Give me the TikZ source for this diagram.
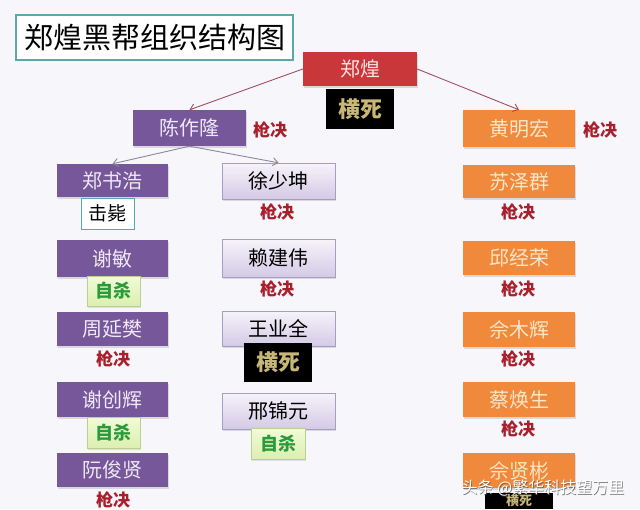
\documentclass[tikz,border=0pt]{standalone}
\usepackage{fontspec}
\setmainfont{Noto Sans CJK SC}
\usetikzlibrary{shadows,arrows.meta}
\definecolor{bgc}{HTML}{F7F6FB}
\definecolor{tealc}{HTML}{5AA8A8}
\definecolor{purp}{HTML}{76579A}
\definecolor{purptxt}{HTML}{EFE8F5}
\definecolor{lavtop}{HTML}{F6F3FA}
\definecolor{lavbot}{HTML}{D4CAE6}
\definecolor{lavdraw}{HTML}{A89CC0}
\definecolor{redc}{HTML}{C9373A}
\definecolor{redtxt}{HTML}{FBE4E0}
\definecolor{orc}{HTML}{F0893B}
\definecolor{ortxt}{HTML}{FBE6C8}
\definecolor{gold}{HTML}{C8B878}
\definecolor{grtop}{HTML}{F2FAD8}
\definecolor{grbot}{HTML}{DCEFB0}
\definecolor{grdraw}{HTML}{B8D090}
\definecolor{grtxt}{HTML}{2A9A3A}
\definecolor{exred}{HTML}{A8202C}
\definecolor{arrred}{HTML}{A05060}
\definecolor{arrgray}{HTML}{8A8A96}
\tikzset{
  base/.style={inner sep=0pt, minimum width=111pt, minimum height=35pt,
    drop shadow={shadow xshift=1pt, shadow yshift=-1.5pt, opacity=0.25},
    font=\fontsize{20}{24}\selectfont},
  purplebox/.style={base, fill=purp, text=purptxt},
  lavbox/.style={base, top color=lavtop, bottom color=lavbot, draw=lavdraw, text=black},
  redbox/.style={base, fill=redc, text=redtxt, minimum width=114pt, minimum height=34pt},
  orangebox/.style={base, fill=orc, text=ortxt},
  deadbox/.style={inner sep=0pt, fill=black, text=gold, minimum width=68pt, minimum height=40pt,
    font=\fontsize{22}{26}\selectfont\bfseries},
  suicidebox/.style={inner sep=0pt, top color=grtop, bottom color=grbot, draw=grdraw, text=grtxt,
    minimum width=53pt, minimum height=30pt, font=\fontsize{18}{22}\selectfont\bfseries,
    drop shadow={shadow xshift=1pt, shadow yshift=-1.5pt, opacity=0.2}},
  shotbox/.style={inner sep=0pt, fill=white, draw=tealc, line width=1pt, text=black,
    minimum width=53pt, minimum height=31pt, font=\fontsize{19}{22}\selectfont},
  exectext/.style={inner sep=0pt, text=exred, font=\fontsize{17}{20}\selectfont\bfseries},
  conn/.style={-{Straight Barb[length=5pt,width=8pt]}, line width=0.9pt},
}
\begin{document}
\begin{tikzpicture}[x=1pt,y=-1pt]
\useasboundingbox (0,0) rectangle (640,509);
\clip (0,0) rectangle (640,509);
\fill[bgc] (0,0) rectangle (640,509);
% title
\node[draw=tealc, line width=1.6pt, fill=white, minimum width=277pt, minimum height=45pt, inner sep=0pt,
  font=\fontsize{29}{32}\selectfont] (title) at (154.5,37.5) {郑煌黑帮组织结构图};
% top
\node[redbox] (zh) at (360,69) {郑煌};
\node[deadbox] (zhd) at (360,109) {横死};
\node[purplebox, minimum width=113pt, minimum height=36pt] (czl) at (189.5,128) {陈作隆};
\node[exectext] (czle) at (270,130) {枪决};
\node[orangebox, minimum width=112pt, minimum height=37pt] (hmh) at (519,128.5) {黄明宏};
\node[exectext] (hmhe) at (600,130) {枪决};
% left column
\node[purplebox, minimum height=33pt] (zsh) at (112.5,180.5) {郑书浩};
\node[shotbox] (zshd) at (107.5,213.5) {击毙};
\node[purplebox, minimum height=37pt] (xm) at (112.5,258.5) {谢敏};
\node[suicidebox] (xmd) at (113.5,291) {自杀};
\node[purplebox, minimum height=34pt] (zyf) at (112.5,329) {周延樊};
\node[exectext] (zyfd) at (113,359) {枪决};
\node[purplebox] (zch) at (112.5,399.5) {谢创辉};
\node[suicidebox, minimum height=31pt] (zchd) at (113.5,432.5) {自杀};
\node[purplebox, minimum height=34pt] (rjx) at (112.5,470) {阮俊贤};
\node[exectext] (rjxd) at (113,500) {枪决};
% middle column
\node[lavbox, minimum width=113pt, minimum height=36pt] (xsk) at (278.5,181) {徐少坤};
\node[exectext] (xskd) at (277,212) {枪决};
\node[lavbox, minimum width=113pt, minimum height=38pt] (ljw) at (278.5,258) {赖建伟};
\node[exectext] (ljwd) at (277,289) {枪决};
\node[lavbox, minimum width=113pt] (wyq) at (278.5,328.5) {王业全};
\node[deadbox, minimum height=39pt] (wyqd) at (278,362.5) {横死};
\node[lavbox, minimum width=113pt, minimum height=36pt] (xjy) at (278.5,411) {邢锦元};
\node[suicidebox, minimum width=54pt, minimum height=31pt] (xjyd) at (278,443.5) {自杀};
% right column
\node[orangebox, minimum width=112pt, minimum height=33pt] (szq) at (519,181.5) {苏泽群};
\node[exectext] (szqd) at (518,212) {枪决};
\node[orangebox, minimum width=112pt, minimum height=34pt] (qjr) at (519,258) {邱经荣};
\node[exectext] (qjrd) at (518,289) {枪决};
\node[orangebox, minimum width=112pt] (smh) at (519,329.5) {佘木辉};
\node[exectext] (smhd) at (518,359) {枪决};
\node[orangebox, minimum width=112pt] (chs) at (519,399.5) {蔡焕生};
\node[exectext] (chsd) at (518,429) {枪决};
\node[orangebox, minimum width=112pt] (sxb) at (519,470.5) {佘贤彬};
\node[deadbox, minimum height=16pt, font=\fontsize{13}{14}\selectfont\bfseries] (sxbd) at (519,501) {横死};
% connectors
\draw[conn, arrred] (zh.west) -- (czl.north);
\draw[conn, arrred] (zh.east) -- (hmh.north);
\draw[conn, arrgray] (czl.south) -- (zsh.north);
\draw[conn, arrgray] (czl.south) -- (xsk.north);
% watermark
\node[text=black!70, opacity=0.7, font=\fontsize{16}{18}\selectfont, inner sep=0pt] (wms) at (543.8,488.8) {头条 @繁华科技望万里};
\node[text=white, font=\fontsize{16}{18}\selectfont, inner sep=0pt] (wm) at (543,488) {头条 @繁华科技望万里};
\end{tikzpicture}
\end{document}
